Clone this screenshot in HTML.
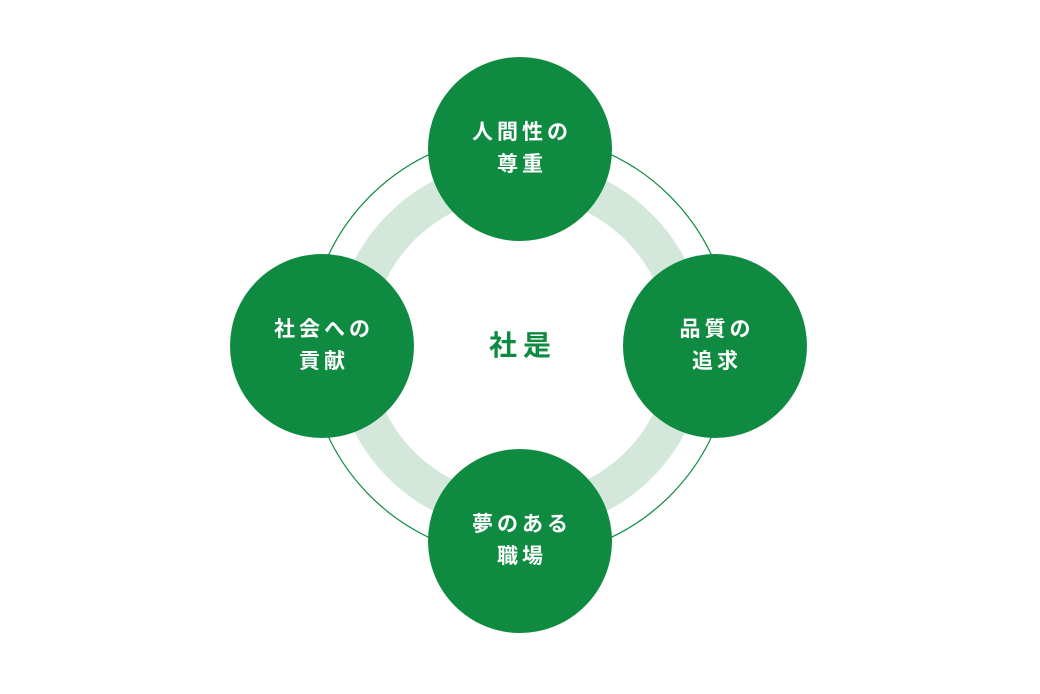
<!DOCTYPE html>
<html><head><meta charset="utf-8"><style>
html,body{margin:0;padding:0;background:#fff;}
body{width:1040px;height:694px;position:relative;overflow:hidden;font-family:"Liberation Sans","Noto Sans CJK JP",sans-serif;}
.c{position:absolute;width:184px;height:184px;border-radius:50%;background:#0e8a41;color:#fff;font-weight:bold;font-size:21px;letter-spacing:4px;line-height:32px;display:flex;align-items:center;justify-content:center;text-align:center;box-sizing:border-box;padding-left:4px;}
.t{position:absolute;left:420px;top:328px;width:200px;text-align:center;color:#0e8a41;font-weight:bold;font-size:28px;letter-spacing:6px;padding-left:6px;box-sizing:border-box;line-height:36px;}
</style></head><body>
<svg width="1040" height="694" style="position:absolute;left:0;top:0">
<circle cx="520" cy="346" r="212" fill="none" stroke="#0e8a41" stroke-width="1.2"/>
<circle cx="520" cy="346" r="168" fill="none" stroke="#d3e8db" stroke-width="37"/>
</svg>
<div class="c" style="left:428px;top:57px">人間性の<br>尊重</div>
<div class="c" style="left:230px;top:254px">社会への<br>貢献</div>
<div class="c" style="left:623px;top:254px">品質の<br>追求</div>
<div class="c" style="left:428px;top:449px">夢のある<br>職場</div>
<div class="t">社是</div>
</body></html>
